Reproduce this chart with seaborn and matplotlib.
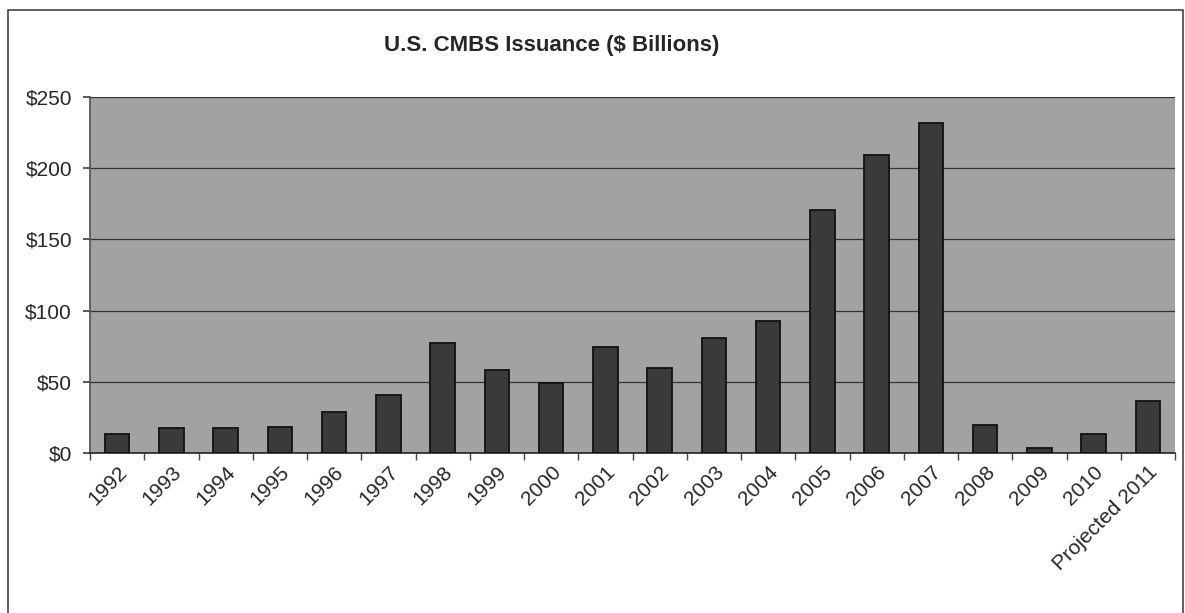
import matplotlib
matplotlib.use("Agg")
import matplotlib.pyplot as plt
import seaborn as sns
import pandas as pd
from matplotlib.patches import Rectangle
from matplotlib.ticker import FuncFormatter, MultipleLocator

categories = ["1992", "1993", "1994", "1995", "1996", "1997", "1998", "1999", "2000",
              "2001", "2002", "2003", "2004", "2005", "2006", "2007", "2008", "2009",
              "2010", "Projected 2011"]
issuance = [13.5, 17.5, 17.5, 18, 29, 41, 77, 58, 49.5, 74.5, 60, 80.5, 92.5,
            170.5, 209.5, 231.5, 20, 3.5, 13, 36.5]
y_ticks = [0, 50, 100, 150, 200, 250]
title = "U.S. CMBS Issuance ($ Billions)"

df = pd.DataFrame({"year": categories, "value": issuance})

sns.set_theme(style="white")
plt.rcParams["font.family"] = ["Liberation Sans", "DejaVu Sans"]

fig = plt.figure(figsize=(11.85, 6.13), dpi=100)
ax = fig.add_axes([90 / 1185, (613 - 453) / 613, (1175 - 90) / 1185, (453 - 97) / 613])

ax.set_facecolor("#a2a2a2")
sns.barplot(data=df, x="year", y="value", ax=ax, color="#3a3a3a",
            edgecolor="#111111", linewidth=1.3, width=0.45, saturation=1, zorder=3)

ax.set_ylim(0, 250)
ax.set_xlim(-0.5, len(categories) - 0.5)
ax.set_yticks(y_ticks)
ax.yaxis.set_major_formatter(FuncFormatter(lambda v, p: f"${int(v)}"))
ax.grid(axis="y", color="#333333", linewidth=0.9, zorder=1)
ax.set_axisbelow(True)

ax.set_xlabel("")
ax.set_ylabel("")
ax.set_xticks(range(len(categories)))
ax.set_xticklabels(categories, rotation=45, ha="right", rotation_mode="anchor", fontsize=15)
ax.tick_params(axis="x", which="major", length=0, pad=7)
ax.xaxis.set_minor_locator(MultipleLocator(1, offset=0.5))
ax.tick_params(axis="x", which="minor", length=5, color="#444444", direction="out", bottom=True)
ax.tick_params(axis="y", labelsize=15, length=5, color="#444444", direction="out", left=True, pad=8)

for side in ["top", "right"]:
    ax.spines[side].set_visible(False)
ax.spines["left"].set_color("#555555")
ax.spines["bottom"].set_color("#222222")
ax.spines["bottom"].set_linewidth(1.2)

fig.text(552 / 1185, 1 - 45 / 613, title, ha="center", va="center",
         fontsize=16, fontweight="bold")

fig.patches.append(Rectangle((8 / 1185, -0.01), (1183 - 8) / 1185, 1 - 10 / 613 + 0.01,
                             transform=fig.transFigure, fill=False,
                             edgecolor="#444444", linewidth=1.2))

fig.savefig("out.png", dpi=100, facecolor="white")
